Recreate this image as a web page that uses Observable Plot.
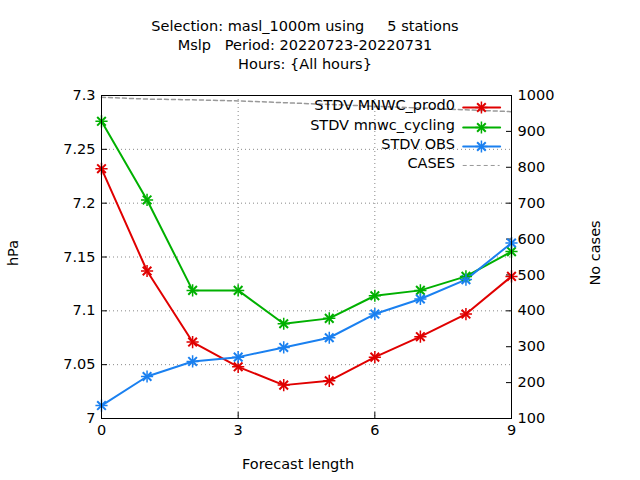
<!DOCTYPE html>
<html><head><meta charset="utf-8">
<script src="https://cdn.jsdelivr.net/npm/d3@7"></script>
<script src="https://cdn.jsdelivr.net/npm/@observablehq/plot@0.6"></script>
<style>
body{margin:0;background:#fff;font-family:"DejaVu Sans",sans-serif;}
#wrap{position:relative;width:640px;height:480px;}
#title{height:75px;text-align:center;font-size:14.5px;line-height:19px;padding-top:17px;box-sizing:border-box;padding-right:30px;}
.lab{position:absolute;font-size:14.5px;}
.leg{position:absolute;font-size:14.5px;text-align:right;width:300px;}
</style></head><body>
<div id="wrap">
<div id="title">Selection: masl_1000m using &nbsp;&nbsp;&nbsp;&nbsp;5 stations<br>Mslp &nbsp;&nbsp;Period: 20220723-20220731<br>Hours: {All hours}</div>
<div id="chart"></div>
<div class="lab" style="left:0;top:245px;transform:rotate(-90deg);">hPa</div>
<div class="lab" style="left:562px;top:245px;transform:rotate(-90deg);">No cases</div>
<div class="lab" style="left:242px;top:456px;">Forecast length</div>
<div class="leg" style="left:155px;top:97px;">STDV MNWC_prod0</div>
<div class="leg" style="left:155px;top:117px;">STDV mnwc_cycling</div>
<div class="leg" style="left:155px;top:136px;">STDV OBS</div>
<div class="leg" style="left:155px;top:155px;">CASES</div>
</div>
<script>
const steps = [0,1,2,3,4,5,6,7,8,9];
const prod0 = [7.232,7.137,7.071,7.048,7.031,7.035,7.057,7.076,7.097,7.132];
const cycling = [7.276,7.203,7.119,7.119,7.088,7.093,7.114,7.119,7.132,7.155];
const obs = [7.012,7.039,7.053,7.057,7.066,7.075,7.097,7.111,7.129,7.163];
const cases = [995,990,988,985,980,975,970,965,960,955];
const yTicks = [7,7.05,7.1,7.15,7.2,7.25,7.3];
const caseTicks = [100,200,300,400,500,600,700,800,900,1000];
const toLeft = c => 7 + (c - 100) / 900 * 0.3;

const series = [
  {name:"STDV MNWC_prod0", vals:prod0, color:"#e00000"},
  {name:"STDV mnwc_cycling", vals:cycling, color:"#00b000"},
  {name:"STDV OBS", vals:obs, color:"#1a80f0"}
];
const rows = series.flatMap(s => steps.map((x,i) => ({x, y:s.vals[i], name:s.name, color:s.color})));
const caseRows = steps.map((x,i) => ({x, y:toLeft(cases[i])}));
// legend samples
const legY = [7.3 - 12/1077, 7.3 - 32/1077, 7.3 - 51/1077, 7.3 - 70/1077];
const lx1 = 7.94, lx2 = 8.75, lxm = 8.34;
const legRows = series.flatMap((s,k) => [{x:lx1,y:legY[k],name:s.name,color:s.color},{x:lx2,y:legY[k],name:s.name,color:s.color}]);

const chart = Plot.plot({
  width:640, height:405,
  marginTop:20, marginBottom:62, marginLeft:101, marginRight:129,
  style:{fontFamily:"DejaVu Sans", fontSize:"14.5px", color:"#000"},
  x:{domain:[0,9]},
  y:{domain:[7,7.3]},
  marks:[
    Plot.gridX([0,3,6,9], {stroke:"#888", strokeOpacity:1, strokeDasharray:"1,3"}),
    Plot.gridY(yTicks, {stroke:"#888", strokeOpacity:1, strokeDasharray:"1,3"}),
    Plot.axisX([0,3,6,9], {tickSize:-6, tickPadding:12, label:null}),
    Plot.axisY(yTicks, {tickSize:-6, tickPadding:12, label:null, tickFormat:d => String(+d.toFixed(2))}),
    Plot.axisY(caseTicks.map(toLeft), {anchor:"right", tickSize:-6, tickPadding:12, label:null,
      tickFormat:(d,i) => String(caseTicks[i])}),
    Plot.line(caseRows, {x:"x", y:"y", stroke:"#999", strokeDasharray:"4,3"}),
    Plot.ruleY([legY[3]], {x1:lx1, x2:lx2, stroke:"#999", strokeDasharray:"4,3"}),
    Plot.line(rows, {x:"x", y:"y", z:"name", stroke:"color", strokeWidth:2}),
    Plot.dot(rows, {x:"x", y:"y", stroke:"color", symbol:"times", r:4, strokeWidth:2}),
    Plot.dot(rows, {x:"x", y:"y", stroke:"color", symbol:"plus", r:4, strokeWidth:1.5}),
    Plot.line(legRows, {x:"x", y:"y", z:"name", stroke:"color", strokeWidth:2}),
    Plot.dot(legRows.filter((d,i)=>i%2==0).map(d=>({...d,x:lxm})), {x:"x", y:"y", stroke:"color", symbol:"times", r:4, strokeWidth:2}),
    Plot.dot(legRows.filter((d,i)=>i%2==0).map(d=>({...d,x:lxm})), {x:"x", y:"y", stroke:"color", symbol:"plus", r:4, strokeWidth:1.5}),
    Plot.frame({stroke:"#000"})
  ]
});
document.getElementById("chart").append(chart);
</script>
</body></html>
